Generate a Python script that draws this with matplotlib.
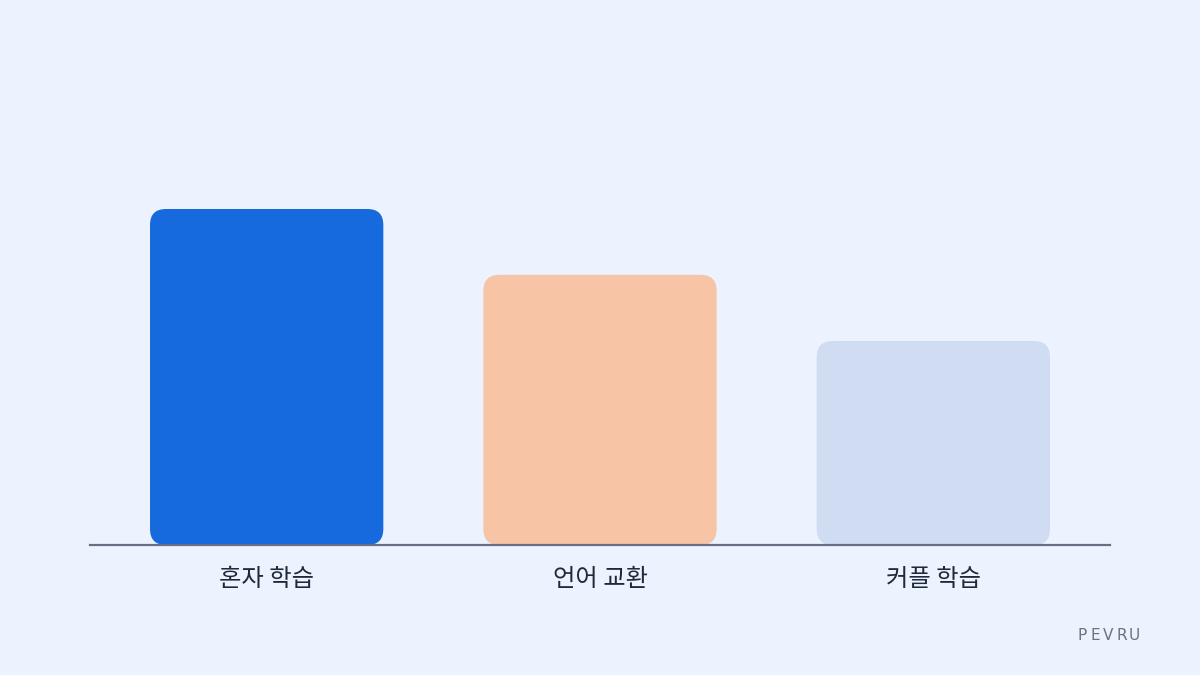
import matplotlib.pyplot as plt
from matplotlib.patches import FancyBboxPatch

plt.rcParams['font.family'] = ['Noto Sans CJK KR', 'DejaVu Sans']

# ---------------------------
# 데이터
# ---------------------------
categories = ['혼자 학습', '언어 교환', '커플 학습']
values = [100, 80.4, 60.7]
colors = ['#176ade', '#f7c4a5', '#d0dcf2']

bg = '#edf3fe'

fig = plt.figure(figsize=(12, 6.75), dpi=100, facecolor=bg)
ax = fig.add_axes([0.075, 0.1926, 0.85, 0.8074])
ax.set_facecolor(bg)

ax.set_xlim(-0.53, 2.53)
ax.set_ylim(0, 162.2)

for s in ['top', 'right', 'left']:
    ax.spines[s].set_visible(False)
ax.spines['bottom'].set_color('#667085')
ax.spines['bottom'].set_linewidth(1.6)
ax.set_yticks([])
ax.set_xticks(range(len(categories)))
ax.set_xticklabels(categories, fontsize=17.5, color='#1e293b')
ax.tick_params(axis='x', length=0, pad=15)

# 둥근 모서리 막대
fig.canvas.draw()
p0 = ax.transData.transform((0, 0))
p1 = ax.transData.transform((1, 1))
px_x = p1[0] - p0[0]
px_y = p1[1] - p0[1]
aspect = px_x / px_y
r = 16 / px_x

bar_w = 0.7
for i, (v, c) in enumerate(zip(values, colors)):
    patch = FancyBboxPatch((i - bar_w / 2, 0), bar_w, v,
                           boxstyle=f"round,pad=0,rounding_size={r}",
                           mutation_aspect=aspect,
                           facecolor=c, edgecolor='none', zorder=1)
    ax.add_patch(patch)

# 워터마크
mark = 'PEVRU'
x0 = 1082.5 / 1200
step = 13.0 / 1200
for k, ch in enumerate(mark):
    fig.text(x0 + k * step, 1 - 636 / 675, ch,
             fontsize=11, color='#6b7280', ha='center', va='center',
             family='DejaVu Sans')

fig.savefig('out.png', dpi=100, facecolor=bg)
